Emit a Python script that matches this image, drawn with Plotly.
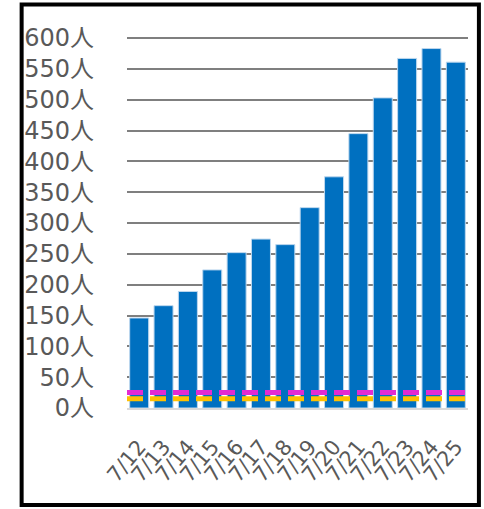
import plotly.graph_objects as go

dates = ["7/12", "7/13", "7/14", "7/15", "7/16", "7/17", "7/18",
         "7/19", "7/20", "7/21", "7/22", "7/23", "7/24", "7/25"]
cases = [146, 166, 189, 224, 252, 274, 265, 325, 375, 445, 503, 567, 583, 561]
line_magenta = [25] * len(dates)
line_yellow = [15] * len(dates)
y_ticks = list(range(0, 601, 50))
y_labels = [f"{v}人" for v in y_ticks]

FONT = "DejaVu Sans, Noto Sans CJK JP"

fig = go.Figure()
fig.add_trace(go.Bar(
    x=dates, y=cases,
    marker=dict(color="#0070C0", line=dict(color="#BDD7EE", width=1)),
    showlegend=False,
))
fig.add_trace(go.Scatter(
    x=dates, y=line_magenta, xaxis="x2", mode="lines",
    line=dict(color="#E32BD2", width=5, dash="16px,7px"),
    showlegend=False,
))
fig.add_trace(go.Scatter(
    x=dates, y=line_yellow, xaxis="x2", mode="lines",
    line=dict(color="#FFC000", width=5, dash="16px,7px"),
    showlegend=False,
))

fig.update_layout(
    width=484, height=509,
    margin=dict(l=127, r=16, t=35, b=101),
    paper_bgcolor="white", plot_bgcolor="white",
    bargap=0.22,
    font=dict(family=FONT, color="#595959"),
    xaxis=dict(
        type="category", tickangle=-50,
        tickmode="array", tickvals=dates, ticktext=dates,
        tickfont=dict(size=21, color="#595959", family=FONT),
        showgrid=False, showline=True, linecolor="#D9D9D9", linewidth=2,
        ticks="", ticklabelstandoff=16,
    ),
    xaxis2=dict(
        type="category", overlaying="x", range=[0, len(dates) - 1],
        visible=False,
    ),
    yaxis=dict(
        range=[0, 605], tickmode="array", tickvals=y_ticks, ticktext=y_labels,
        tickfont=dict(size=24, color="#595959", family=FONT),
        showgrid=True, gridcolor="#7F7F7F", gridwidth=2,
        zeroline=False, ticks="", ticklabelstandoff=32,
    ),
    shapes=[dict(
        type="rect", xref="paper", yref="paper",
        x0=-0.309, x1=1.032, y0=-0.260, y1=1.082,
        line=dict(color="black", width=4), fillcolor="rgba(0,0,0,0)",
        layer="above",
    )],
)

fig.write_html("out.html")
